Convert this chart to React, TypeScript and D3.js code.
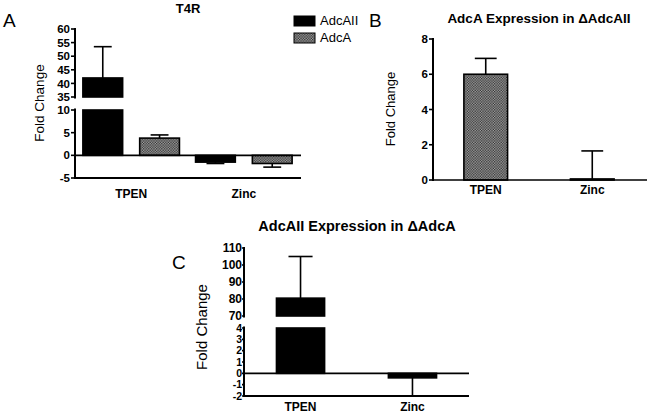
import React from "react";
import * as d3 from "d3";

const categories = ["TPEN", "Zinc"];
const seriesNames = ["AdcAII", "AdcA"];

// Panel A (T4R)
const aAdcAII = [42, -1.5];
const aAdcAIIErr = [53.5, -1.8];
const aAdcA = [3.8, -1.8];
const aAdcAErr = [4.5, -2.6];
const aTicksUpper = [35, 40, 45, 50, 55, 60];
const aTicksLower = [-5, 0, 5, 10];

// Panel B (AdcA in ΔAdcAII)
const bAdcA = [6.0, 0.06];
const bAdcAErr = [6.9, 1.65];
const bTicks = [0, 2, 4, 6, 8];

// Panel C (AdcAII in ΔAdcA)
const cAdcAII = [80.5, -0.4];
const cAdcAIIErr = [105, -2];
const cTicksUpper = [70, 80, 90, 100, 110];
const cTicksLower = [-2, -1, 0, 1, 2, 3, 4];

const FONT = "'Liberation Sans', Arial, Helvetica, sans-serif";

type Segment = { scale: d3.ScaleLinear<number, number>; ticks: number[]; font: number };
type Series = { values: number[]; errs: number[]; fill: string };

function Panel(props: {
  x0: number;
  x1: number;
  axisEnd: number;
  segments: Segment[];
  series: Series[];
  padInner: number;
  padOuter: number;
  subPad: number;
  labelY: number;
  tickLen: number;
  labelDx: number;
  capFrac: number;
}) {
  const {
    x0, x1, axisEnd, segments, series, padInner, padOuter, subPad,
    labelY, tickLen, labelDx, capFrac,
  } = props;
  const xb = d3.scaleBand<string>().domain(categories).range([x0, x1]).paddingInner(padInner).paddingOuter(padOuter);
  const xs = d3
    .scaleBand<number>()
    .domain(series.map((_, i) => i))
    .range([0, xb.bandwidth()])
    .paddingInner(subPad);

  const segFor = (v: number) => {
    for (const s of segments) {
      const [a, b] = s.scale.domain();
      if (v >= Math.min(a, b) - 1e-9 && v <= Math.max(a, b) + 1e-9) return s;
    }
    return null;
  };
  const lowSeg = segments[segments.length - 1];
  const zeroY = lowSeg.scale(0);
  const bottomY = lowSeg.scale(lowSeg.scale.domain()[0]);

  const elems: React.ReactNode[] = [];
  series.forEach((s, si) => {
    categories.forEach((c, ci) => {
      const v = s.values[ci];
      const bx = (xb(c) as number) + (xs(si) as number);
      const bw = xs.bandwidth();
      segments.forEach((seg, gi) => {
        const [d0, d1] = seg.scale.domain();
        const lo = Math.max(Math.min(0, v), d0);
        const hi = Math.min(Math.max(0, v), d1);
        if (hi <= lo) return;
        const yTop = seg.scale(hi);
        const yBot = seg.scale(lo);
        elems.push(
          <rect key={`b${si}${ci}${gi}`} x={bx} y={yTop} width={bw} height={Math.max(yBot - yTop, 0.5)}
            fill={s.fill} stroke="#000" strokeWidth={1.6} />
        );
      });
      const e = s.errs[ci];
      const segV = segFor(v);
      const segE = segFor(e);
      if (segV && segE) {
        const cx = bx + bw / 2;
        const y1 = segV.scale(v);
        const y2 = segE.scale(e);
        const cw = bw * capFrac;
        elems.push(
          <g key={`e${si}${ci}`} stroke="#000" strokeWidth={1.6}>
            <line x1={cx} x2={cx} y1={y1} y2={y2} />
            <line x1={cx - cw / 2} x2={cx + cw / 2} y1={y2} y2={y2} />
          </g>
        );
      }
    });
  });

  return (
    <g>
      {elems}
      {segments.map((seg, gi) => {
        const r = seg.scale.range();
        const ext = segments.length > 1 ? 1.5 : 0;
        return (
          <g key={`ax${gi}`}>
            <line x1={x0} x2={x0} y1={Math.max(r[0], r[1]) + (gi === segments.length - 1 ? 1 : ext)}
              y2={Math.min(r[0], r[1]) - (gi === 0 ? 1 : ext)} stroke="#000" strokeWidth={2} />
            {seg.ticks.map((t) => (
              <g key={t}>
                <line x1={x0 - tickLen} x2={x0} y1={seg.scale(t)} y2={seg.scale(t)} stroke="#000" strokeWidth={1.6} />
                <text x={x0 - tickLen - labelDx} y={seg.scale(t)} dy="0.36em" textAnchor="end"
                  fontFamily={FONT} fontWeight="bold" fontSize={seg.font} fill="#000">
                  {t}
                </text>
              </g>
            ))}
          </g>
        );
      })}
      <line x1={x0} x2={axisEnd} y1={zeroY} y2={zeroY} stroke="#000" strokeWidth={1.6} />
      {bottomY !== zeroY && (
        <line x1={x0} x2={axisEnd} y1={bottomY} y2={bottomY} stroke="#000" strokeWidth={2.2} />
      )}
      {categories.map((c) => (
        <text key={c} x={(xb(c) as number) + xb.bandwidth() / 2} y={labelY} textAnchor="middle"
          fontFamily={FONT} fontWeight="bold" fontSize={12} fill="#000">
          {c}
        </text>
      ))}
    </g>
  );
}

export default function App() {
  const hatch = "url(#check)";
  const aUpper = d3.scaleLinear().domain([35, 60]).range([97, 29]);
  const aLower = d3.scaleLinear().domain([-5, 10]).range([178, 110]);
  const bScale = d3.scaleLinear().domain([0, 8]).range([180, 39]);
  const cUpper = d3.scaleLinear().domain([70, 110]).range([316, 248]);
  const cLower = d3.scaleLinear().domain([-2, 4]).range([396, 328]);

  return (
    <svg width={647} height={413} style={{ position: "absolute", left: 0, top: 0, background: "#fff" }}>
      <defs>
        <pattern id="check" width={2.6} height={2.6} patternUnits="userSpaceOnUse">
          <rect width={2.6} height={2.6} fill="#a8a8a8" />
          <rect width={1.3} height={1.3} fill="#2c2c2c" />
          <rect x={1.3} y={1.3} width={1.3} height={1.3} fill="#2c2c2c" />
        </pattern>
      </defs>
      <rect width={647} height={413} fill="#fff" />

      {/* Panel A */}
      <text x={3} y={27} fontFamily={FONT} fontSize={19} fill="#000">A</text>
      <text x={188} y={13} textAnchor="middle" fontFamily={FONT} fontWeight="bold" fontSize={13}>T4R</text>
      <text transform="translate(44,103) rotate(-90)" textAnchor="middle" fontFamily={FONT} fontSize={13.5}>Fold Change</text>
      <Panel
        x0={75} x1={300} axisEnd={301}
        segments={[{ scale: aUpper, ticks: aTicksUpper, font: 11.5 }, { scale: aLower, ticks: aTicksLower, font: 11.5 }]}
        series={[
          { values: aAdcAII, errs: aAdcAIIErr, fill: "#000" },
          { values: aAdcA, errs: aAdcAErr, fill: hatch },
        ]}
        padInner={0.143} padOuter={0.07} subPad={0.3}
        labelY={198} tickLen={4} labelDx={1} capFrac={0.45}
      />
      {seriesNames.map((n, i) => (
        <g key={n}>
          <rect x={294} y={16 + i * 17} width={21} height={10} fill={i === 0 ? "#000" : hatch} stroke="#000" strokeWidth={1} />
          <text x={320} y={25 + i * 17} fontFamily={FONT} fontSize={13}>{n}</text>
        </g>
      ))}

      {/* Panel B */}
      <text x={369} y={27} fontFamily={FONT} fontSize={19} fill="#000">B</text>
      <text x={539} y={23} textAnchor="middle" fontFamily={FONT} fontWeight="bold" fontSize={13.5}>AdcA Expression in ΔAdcAII</text>
      <text transform="translate(395,109) rotate(-90)" textAnchor="middle" fontFamily={FONT} fontSize={13}>Fold Change</text>
      <Panel
        x0={433} x1={645} axisEnd={647}
        segments={[{ scale: bScale, ticks: bTicks, font: 11.5 }]}
        series={[{ values: bAdcA, errs: bAdcAErr, fill: hatch }]}
        padInner={0.59} padOuter={0.29} subPad={0}
        labelY={194} tickLen={4} labelDx={1} capFrac={0.5}
      />

      {/* Panel C */}
      <text x={172} y={269} fontFamily={FONT} fontSize={19} fill="#000">C</text>
      <text x={357} y={231} textAnchor="middle" fontFamily={FONT} fontWeight="bold" fontSize={14.5}>AdcAII Expression in ΔAdcA</text>
      <text transform="translate(207,327) rotate(-90)" textAnchor="middle" fontFamily={FONT} fontSize={15}>Fold Change</text>
      <Panel
        x0={244} x1={469} axisEnd={469}
        segments={[{ scale: cUpper, ticks: cTicksUpper, font: 12 }, { scale: cLower, ticks: cTicksLower, font: 10.5 }]}
        series={[{ values: cAdcAII, errs: cAdcAIIErr, fill: "#000" }]}
        padInner={0.57} padOuter={0.29} subPad={0}
        labelY={411} tickLen={2} labelDx={0} capFrac={0.5}
      />
    </svg>
  );
}
